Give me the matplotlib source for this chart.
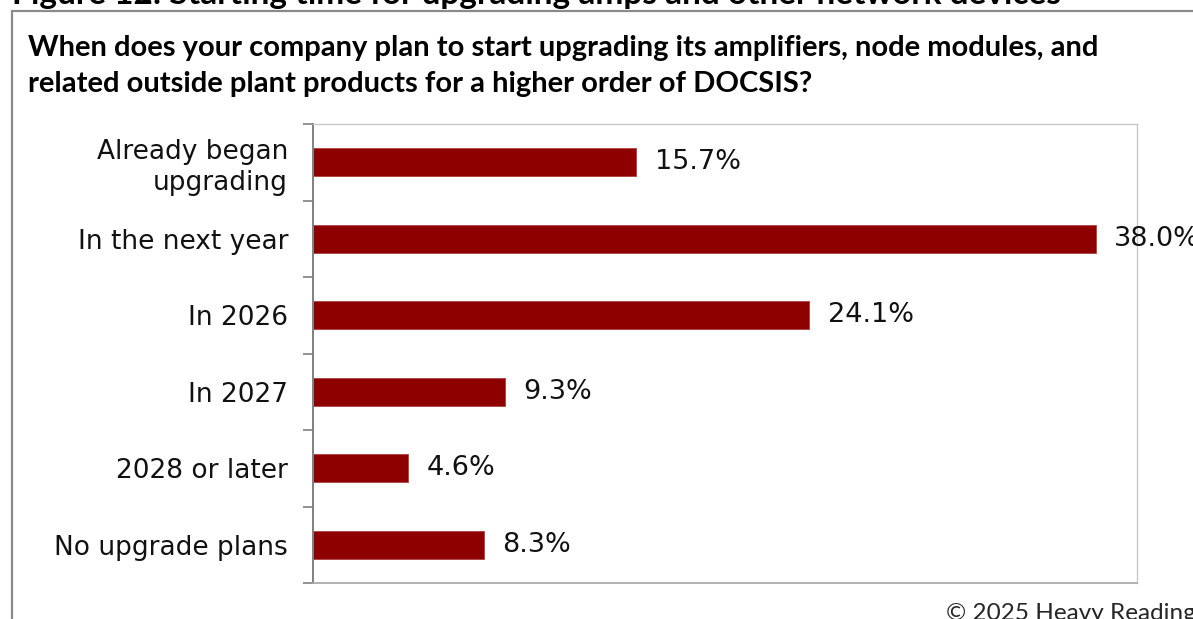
import matplotlib.pyplot as plt
from matplotlib.patches import Rectangle

categories = ["Already began\nupgrading", "In the next year", "In 2026",
              "In 2027", "2028 or later", "No upgrade plans"]
values = [15.7, 38.0, 24.1, 9.3, 4.6, 8.3]
labels = ["15.7%", "38.0%", "24.1%", "9.3%", "4.6%", "8.3%"]

W, H = 1193, 619
fig = plt.figure(figsize=(W / 100, H / 100), dpi=100)

# frame around the chart
fig.patches.append(Rectangle((12 / W, -0.05), 1.1, 1 - 11 / H + 0.05,
                             transform=fig.transFigure, fill=False,
                             edgecolor="#8a8a8a", linewidth=1.6))

fig.text(12 / W, 1 - 4 / H, "Figure 12: Starting time for upgrading amps and other network devices",
         fontsize=24, fontweight="bold", family="Lato", va="baseline", ha="left")
fig.text(28 / W, 1 - 66 / H,
         "When does your company plan to start upgrading its amplifiers, node modules, and\n"
         "related outside plant products for a higher order of DOCSIS?",
         fontsize=21, fontweight="bold", family="Lato", va="center", ha="left",
         linespacing=1.45)

ax = fig.add_axes([313 / W, 1 - 583 / H, (1137 - 313) / W, (583 - 124) / H])
y = list(range(len(categories)))
ax.barh(y, values, height=0.36, color="#8e0000", edgecolor="#b04040", linewidth=0.6)
for yi, v, t in zip(y, values, labels):
    ax.text(v + 0.9, yi, t, va="center", ha="left", fontsize=19.5, color="#111111")

ax.set_xlim(0, 40)
ax.set_ylim(len(categories) - 0.5, -0.5)
ax.set_xticks([])
ax.set_yticks(y)
ax.set_yticklabels(categories, fontsize=19, color="#111111", linespacing=1.25)
ax.set_yticks([i - 0.5 for i in range(len(categories) + 1)], minor=True)
ax.tick_params(axis="y", which="major", length=0, pad=18)
ax.tick_params(axis="y", which="minor", length=7, width=1.2, color="#808080")

ax.spines["left"].set_color("#808080")
ax.spines["left"].set_linewidth(1.4)
ax.spines["bottom"].set_color("#a6a6a6")
ax.spines["bottom"].set_linewidth(1.2)
for s in ("top", "right"):
    ax.spines[s].set_color("#c8c8c8")
    ax.spines[s].set_linewidth(1.0)

fig.text(946 / W, 1 - 613 / H, "\u00a9 2025 Heavy Reading", fontsize=17.5,
         family="Lato", va="center", ha="left", color="#262626")

fig.savefig("out.png", dpi=100)
